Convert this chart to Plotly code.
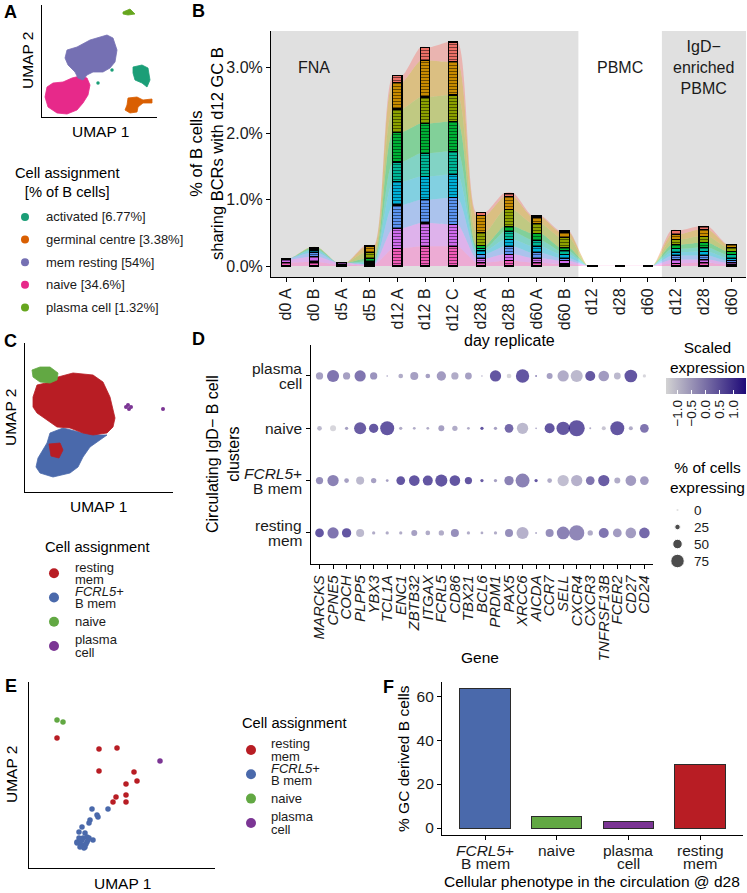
import plotly.graph_objects as go

W, H = 747, 893
FONT = "Liberation Sans"
INK = "#1a1a1a"

# ---------------- A: UMAP of all B cells (cluster outlines)
a_clusters = ["activated", "germinal centre", "mem resting", "naive", "plasma cell"]
a_share = ["6.77%", "3.38%", "54%", "34.6%", "1.32%"]
a_colors = ["#1b9e77", "#d95f02", "#7570b3", "#e7298a", "#66a61e"]

a_activated = [(9.1, 5.0), (10.0, 5.2), (10.6, 4.9), (10.8, 3.7), (10.5, 3.0), (10.0, 3.4), (9.3, 3.7), (9.1, 4.4)]
a_gc = [(8.6, 1.9), (9.5, 2.0), (10.1, 1.7), (11.0, 1.8), (11.0, 1.4), (10.1, 1.4), (9.6, 1.0), (9.5, 0.5),
        (8.8, 0.4), (8.3, 0.7), (8.5, 1.2)]
a_mem = [(2.5, 6.7), (3.5, 7.0), (4.8, 7.7), (6.5, 8.2), (7.1, 7.9), (7.5, 6.7), (7.3, 5.5), (6.8, 4.9), (6.1, 4.5),
         (5.1, 4.5), (4.5, 4.2), (4.1, 3.7), (3.6, 3.9), (3.3, 4.5), (2.6, 5.2), (2.3, 5.9)]
a_naive = [(0.5, 3.0), (1.1, 3.4), (2.1, 3.5), (3.0, 3.9), (3.8, 4.1), (4.5, 3.9), (4.8, 3.2), (4.6, 2.2), (4.1, 1.4),
           (3.5, 0.7), (2.5, 0.3), (1.5, 0.4), (0.6, 1.0), (0.3, 2.0)]
a_plasma = [(8.1, 10.5), (8.8, 10.8), (9.3, 10.3), (8.6, 10.2), (8.1, 10.3)]
a_stray = [(7.0, 4.7), (5.6, 3.4)]  # lone activated cells

# ---------------- B: clones shared with d12 GC B cells
b_samples = ["d0 A", "d0 B", "d5 A", "d5 B", "d12 A", "d12 B", "d12 C", "d28 A", "d28 B", "d60 A", "d60 B",
             "d12", "d28", "d60", "d12", "d28", "d60"]
b_tissue = ["FNA"] * 11 + ["PBMC"] * 3 + ["IgD"] * 3
# % of B cells per clone group, top group first
b_clone_pct = [
    [0, 0, 0, 0.02, 0.10, 0.20, 0.30, 0.05, 0.05, 0.02, 0.02, 0, 0, 0, 0.06, 0.05, 0.01],
    [0, 0, 0, 0.08, 0.40, 0.55, 0.50, 0.25, 0.20, 0.10, 0.08, 0, 0, 0, 0.08, 0.10, 0.04],
    [0, 0.01, 0, 0.10, 0.35, 0.40, 0.40, 0.20, 0.25, 0.15, 0.15, 0, 0, 0, 0.08, 0.10, 0.06],
    [0, 0.02, 0, 0.04, 0.45, 0.45, 0.45, 0.05, 0.08, 0.10, 0.05, 0, 0, 0, 0.06, 0.07, 0.05],
    [0, 0.02, 0, 0.02, 0.30, 0.35, 0.35, 0.03, 0.12, 0.09, 0.05, 0, 0, 0, 0.05, 0.06, 0.05],
    [0, 0.03, 0, 0.02, 0.35, 0.35, 0.35, 0.05, 0.10, 0.10, 0.06, 0, 0, 0, 0.05, 0.06, 0.04],
    [0.02, 0.06, 0, 0.01, 0.35, 0.35, 0.40, 0.07, 0.12, 0.08, 0.04, 0, 0, 0, 0.06, 0.06, 0.03],
    [0.05, 0.08, 0.03, 0.01, 0.30, 0.35, 0.33, 0.06, 0.10, 0.07, 0.05, 0, 0, 0, 0.06, 0.05, 0.03],
    [0.05, 0.06, 0.02, 0.01, 0.27, 0.30, 0.30, 0.05, 0.08, 0.05, 0.03, 0.004, 0.004, 0.004, 0.04, 0.05, 0.02],
]
b_clone_colors = ["#F8766D", "#D39200", "#93AA00", "#00BA38", "#00C19F", "#00B9E3", "#619CFF", "#DB72FB", "#FF61C3"]

# ---------------- C: UMAP of circulating IgD- B cells
c_clusters = ["resting mem", "FCRL5+ B mem", "naive", "plasma cell"]
c_labels = ["resting\nmem", "<i>FCRL5</i>+\nB mem", "naive", "plasma\ncell"]
c_colors = ["#b81d24", "#4a69ab", "#62a843", "#7b3594"]

c_mem = [(0.8, 9.5), (1.2, 10.7), (2.5, 11.0), (3.3, 11.5), (4.8, 11.9), (6.8, 11.7), (7.8, 11.0), (8.5, 9.5),
         (9.0, 7.4), (8.8, 6.5), (8.2, 5.9), (6.8, 5.7), (5.8, 5.9), (4.5, 6.4), (3.2, 6.5), (2.2, 7.2),
         (1.2, 7.9), (0.8, 8.5)]
c_mem_patch = [(2.4, 4.8), (3.5, 4.9), (3.8, 4.2), (3.4, 3.4), (2.6, 3.6)]
c_fcrl5 = [(2.5, 5.9), (3.8, 6.4), (5.8, 5.9), (7.5, 5.7), (8.2, 5.7), (7.5, 5.2), (6.5, 4.5), (5.8, 3.5),
           (5.3, 2.5), (4.5, 1.9), (2.8, 1.5), (1.5, 1.9), (1.1, 2.5), (1.3, 3.4), (2.2, 4.9)]
c_naive = [(0.7, 12.2), (1.5, 12.5), (2.5, 12.5), (3.3, 11.9), (3.2, 11.2), (2.5, 10.9), (1.5, 11.0), (0.8, 11.5)]
c_plasma_u1 = [10.1, 10.4, 10.6, 10.3, 13.8]
c_plasma_u2 = [8.5, 8.3, 8.5, 8.7, 8.3]

# ---------------- D: dot plot
d_genes = ["MARCKS", "CPNE5", "COCH", "PLPP5", "YBX3", "TCL1A", "ENC1", "ZBTB32", "ITGAX", "FCRL5", "CD86",
           "TBX21", "BCL6", "PRDM1", "PAX5", "XRCC6", "AICDA", "CCR7", "SELL", "CXCR4", "CXCR3", "TNFRSF13B",
           "FCER2", "CD27", "CD24"]
d_rows = ["resting\nmem", "<i>FCRL5</i>+\nB mem", "naive", "plasma\ncell"]
d_scaled = [
    [1.4, 0.75, 1.4, -0.6, -0.35, -0.35, -0.35, -0.1, -0.35, -0.35, 0.25, -0.35, -0.35, -0.35, 0.25, -0.45,
     -0.35, 0.25, 0.5, 0.4, -0.35, 0.75, 0.0, 0.0, 1.0],
    [0.25, 0.5, -0.1, -0.6, -0.1, -0.1, 1.4, 1.4, 1.4, 1.4, 1.4, 1.4, 1.25, -0.1, 0.5, 0.5, 1.4, -0.35, -0.7,
     -0.45, 0.75, 1.25, -0.35, 0.0, 0.0],
    [-0.6, -1.2, -0.1, 1.25, 1.35, 1.4, -0.35, -0.35, -0.35, -0.1, -0.35, -0.35, 1.4, -0.1, 1.0, -0.6, -0.1,
     1.4, 1.35, 1.4, -0.35, -0.85, 1.4, -0.35, 0.75],
    [-0.1, 0.75, -0.1, 0.75, 0.15, -0.2, -0.35, -0.1, -0.1, 0.0, -0.35, -0.1, -0.5, 1.4, -1.2, 1.4, 0.4, -0.1,
     -0.35, -0.6, 1.35, 0.0, -0.6, 1.4, -1.2],
]
d_pct = [
    [45, 61, 49, 41, 11, 11, 11, 28, 20, 24, 41, 11, 8, 11, 41, 66, 3, 41, 70, 86, 24, 53, 45, 57, 57],
    [36, 61, 20, 41, 24, 8, 45, 57, 53, 66, 57, 36, 11, 11, 49, 78, 11, 20, 61, 61, 45, 61, 28, 57, 45],
    [20, 28, 11, 66, 49, 78, 11, 8, 8, 28, 24, 8, 11, 11, 45, 61, 1, 53, 74, 91, 3, 16, 78, 16, 45],
    [36, 66, 36, 61, 36, 1, 20, 41, 20, 49, 36, 33, 1, 61, 20, 74, 3, 28, 61, 66, 53, 57, 33, 70, 11],
]
d_size_keys = [0, 25, 50, 75]
d_color_ticks = [-1.0, -0.5, 0.0, 0.5, 1.0]

# ---------------- E: UMAP of GC-derived cells at d28
e_u1 = {
    "resting mem": [2.8, 7.0, 8.8, 7.0, 10.5, 10.8, 9.7, 8.7, 9.7, 8.4, 9.7],
    "FCRL5+ B mem": [6.3, 7.9, 6.8, 6.9, 6.1, 6.0, 5.3, 5.0, 5.6, 5.8, 5.4, 6.4, 4.8, 5.1, 5.4, 5.6, 5.8, 6.0,
                     5.3, 5.5, 5.1, 5.7, 5.9, 5.0, 4.8],
    "naive": [2.8, 3.4],
    "plasma cell": [13.1],
}
e_u2 = {
    "resting mem": [13.0, 11.9, 12.0, 9.7, 9.6, 8.7, 8.4, 7.1, 7.3, 6.6, 6.6],
    "FCRL5+ B mem": [5.9, 5.9, 5.3, 5.1, 4.8, 4.5, 4.1, 3.6, 3.5, 3.1, 3.0, 2.8, 2.6, 2.5, 2.3, 2.1, 2.6, 3.0,
                     2.8, 2.0, 2.1, 2.4, 2.8, 3.0, 2.5],
    "naive": [14.8, 14.6],
    "plasma cell": [10.7],
}

# ---------------- F: phenotype of GC-derived cells in circulation
f_labels = ["<i>FCRL5</i>+\nB mem", "naive", "plasma\ncell", "resting\nmem"]
f_pct = [63.3, 5.4, 2.9, 29.0]
f_colors = ["#4a69ab", "#62a843", "#7b3594", "#b81d24"]


def dx(a, b):
    return [a / W, b / W]


def dy(top, bottom):
    return [1 - bottom / H, 1 - top / H]


def poly(pts, color, xa, ya):
    xs = [p[0] for p in pts] + [pts[0][0]]
    ys = [p[1] for p in pts] + [pts[0][1]]
    return go.Scatter(x=xs, y=ys, mode="lines", fill="toself", fillcolor=color,
                      line=dict(color=color, width=0.8), xaxis=xa, yaxis=ya, hoverinfo="skip")


def font(size, color=INK):
    return dict(family=FONT, size=size, color=color)


def umap_axis(dom, rng):
    return dict(domain=dom, range=rng, showline=True, linecolor="black", linewidth=1.1, ticks="",
                showticklabels=False, showgrid=False, zeroline=False, fixedrange=True)


def plain_axis(dom, rng, **kw):
    d = dict(domain=dom, range=rng, showline=True, linecolor="black", linewidth=1.1, ticks="outside",
             ticklen=4, tickcolor="black", tickwidth=1, showgrid=False, zeroline=False,
             tickfont=font(15.5), fixedrange=True)
    d.update(kw)
    return d


def hidden_axis(dom, rng, **kw):
    d = dict(domain=dom, range=rng, visible=False, fixedrange=True)
    d.update(kw)
    return d


fig = go.Figure()
ann = []
shapes = []

# ---- A
for pts, col in [(a_naive, a_colors[3]), (a_mem, a_colors[2]), (a_activated, a_colors[0]),
                 (a_gc, a_colors[1]), (a_plasma, a_colors[4])]:
    fig.add_trace(poly(pts, col, "x", "y"))
fig.add_trace(go.Scatter(x=[p[0] for p in a_stray], y=[p[1] for p in a_stray], mode="markers",
                         marker=dict(color=a_colors[0], size=3.5), xaxis="x", yaxis="y"))

# ---- B: alluvium (base subplot) and stacked strata (overlay subplot)
b_pos = list(range(1, len(b_samples) + 1))
half = 1 / 6
b_xa = [p + s for p in b_pos for s in (-half, half)]
for vals, col in zip(b_clone_pct[::-1], b_clone_colors[::-1]):
    r, g, b = int(col[1:3], 16), int(col[3:5], 16), int(col[5:7], 16)
    fig.add_trace(go.Scatter(x=b_xa, y=[v for v in vals for _ in (0, 1)], mode="lines", stackgroup="allu",
                             line=dict(width=0, shape="spline", smoothing=0.8, color=col),
                             fillcolor=f"rgba({r},{g},{b},0.42)", xaxis="x2", yaxis="y2", hoverinfo="skip"))
for vals, col in zip(b_clone_pct[::-1], b_clone_colors[::-1]):
    fig.add_trace(go.Bar(x=b_pos, y=vals, width=1 / 3, xaxis="x3", yaxis="y3",
                         marker=dict(color=col, line=dict(color="black", width=1.2),
                                     pattern=dict(shape="-", fgcolor="black", size=3, solidity=0.4,
                                                  fillmode="overlay"))))

b_range = [0.46, 17.52]
b_yrange = [-0.165, 3.545]
# grey panels for FNA and IgD-enriched PBMC
fna_end = max(p for p, t in zip(b_pos, b_tissue) if t == "FNA") + 0.5
igd_start = min(p for p, t in zip(b_pos, b_tissue) if t == "IgD") - 0.5
for x0, x1 in [(b_range[0], fna_end), (igd_start, b_range[1])]:
    shapes.append(dict(type="rect", xref="x2", yref="y2 domain", x0=x0, x1=x1, y0=0, y1=1,
                       fillcolor="#e0e0e0", line=dict(width=0), layer="below"))
ann += [
    dict(text="FNA", x=2, y=3.0, xref="x2", yref="y2", showarrow=False, font=font(16)),
    dict(text="PBMC", x=13, y=3.0, xref="x2", yref="y2", showarrow=False, font=font(16)),
    dict(text="IgD−<br>enriched<br>PBMC", x=16, y=3.0, xref="x2", yref="y2", showarrow=False, font=font(16)),
]

# ---- C
for pts, col in [(c_fcrl5, c_colors[1]), (c_mem, c_colors[0]), (c_mem_patch, c_colors[0]),
                 (c_naive, c_colors[2])]:
    fig.add_trace(poly(pts, col, "x4", "y4"))
fig.add_trace(go.Scatter(x=c_plasma_u1, y=c_plasma_u2, mode="markers", marker=dict(color=c_colors[3], size=4),
                         xaxis="x4", yaxis="y4"))

# ---- D
dxs, dys, dcol, dsz = [], [], [], []
for r in range(len(d_rows)):
    for g in range(len(d_genes)):
        dxs.append(g + 1)
        dys.append(r + 1)
        dcol.append(d_scaled[r][g])
        dsz.append(1.5 + 0.16 * d_pct[r][g])
fig.add_trace(go.Scatter(
    x=dxs, y=dys, mode="markers", xaxis="x5", yaxis="y5",
    marker=dict(size=dsz, color=dcol, colorscale=[[0, "#d3d3d3"], [1, "#1e0a78"]], cmin=-1.4, cmax=1.45,
                line=dict(width=0),
                colorbar=dict(orientation="h", x=706 / W, xanchor="center", y=1 - 378 / H, yanchor="top",
                              len=80, lenmode="pixels", thickness=16, thicknessmode="pixels",
                              tickvals=d_color_ticks, ticktext=[f"{v:.1f}".replace("-", "−") for v in d_color_ticks],
                              tickangle=-90, ticks="inside", tickcolor="white", ticklen=4,
                              outlinewidth=0, tickfont=font(13.5), xpad=0, ypad=0))))
# row labels with ggplot-like tight line spacing
d_row_pos = list(range(1, len(d_rows) + 1))
for yv, lab in zip(d_row_pos, d_rows):
    lines = lab.split("\n")
    for k, line in enumerate(lines):
        ann.append(dict(text=line, x=0, y=yv, xref="x5 domain", yref="y5", xanchor="right", yanchor="middle",
                        xshift=-7, yshift=((len(lines) - 1) / 2 - k) * 15, showarrow=False, font=font(15.5)))

# ---- E
for name, col in zip(c_clusters, c_colors):
    fig.add_trace(go.Scatter(x=e_u1[name], y=e_u2[name], mode="markers", marker=dict(color=col, size=5.5),
                             xaxis="x6", yaxis="y6"))

# ---- F
f_pos = list(range(1, len(f_pct) + 1))
fig.add_trace(go.Bar(x=f_pos, y=f_pct, width=0.7, xaxis="x7", yaxis="y7",
                     marker=dict(color=f_colors, line=dict(color="#2b2b2b", width=1))))
for xv, lab in zip(f_pos, f_labels):
    for k, line in enumerate(lab.split("\n")):
        ann.append(dict(text=line, x=xv, y=0, xref="x7", yref="y7 domain", xanchor="center", yanchor="top",
                        yshift=-5 - k * 13.3, showarrow=False, font=font(15.5)))


# ---- legends drawn on hidden axes (one row per entry)
def legend_block(xa, ya, labels, colors, dot_x, text_x, dot_size, size, gap):
    n = len(labels)
    fig.add_trace(go.Scatter(x=[dot_x] * n, y=list(range(n)), mode="markers",
                             marker=dict(color=colors, size=dot_size), xaxis=xa, yaxis=ya))
    for i, lab in enumerate(labels):
        lines = lab.split("\n")
        for k, line in enumerate(lines):
            ann.append(dict(text=line, x=text_x, y=i, xref=xa, yref=ya, xanchor="left", yanchor="middle",
                            yshift=((len(lines) - 1) / 2 - k) * gap, showarrow=False, font=font(size)))


legend_block("x8", "y8", [f"{c} [{s}]" for c, s in zip(a_clusters, a_share)], a_colors, 25, 44, 8, 13, 12.3)
legend_block("x9", "y9", c_labels, c_colors, 54, 73, 10, 13, 12.3)
legend_block("x10", "y10", c_labels, c_colors, 251, 269, 10, 13, 12.3)
legend_block("x11", "y11", [str(k) for k in d_size_keys], ["black"] * 4, 677.5, 692,
             [1.5 + 0.16 * k for k in d_size_keys], 13.5, 12.3)

layout_axes = dict(
    xaxis=umap_axis(dx(42, 157), [0, 11.5]),
    yaxis=umap_axis(dy(5, 117), [0, 11.2]),
    xaxis2=plain_axis(dx(271, 746), b_range, tickvals=b_pos, ticktext=b_samples, tickangle=-90,
                      tickfont=font(16), anchor="y2"),
    yaxis2=plain_axis(dy(31, 277), b_yrange, tickvals=[0, 1, 2, 3],
                      ticktext=[f"{v:.1f}%" for v in [0, 1, 2, 3]], tickfont=font(16), anchor="x2"),
    xaxis3=hidden_axis(dx(271, 746), b_range, overlaying="x2", anchor="y3"),
    yaxis3=hidden_axis(dy(31, 277), b_yrange, overlaying="y2", anchor="x3"),
    xaxis4=umap_axis(dx(25, 173), [0, 14.8]),
    yaxis4=umap_axis(dy(343, 492), [0, 14.9]),
    xaxis5=plain_axis(dx(311.4, 652.5), [0.4, 25.6], tickvals=list(range(1, 26)),
                      ticktext=[f"<i>{g}</i>" for g in d_genes], tickangle=-90, tickfont=font(15), anchor="y5"),
    yaxis5=plain_axis(dy(344.6, 564.3), [0.4, 4.6], tickvals=d_row_pos, showticklabels=False, anchor="x5"),
    xaxis6=umap_axis(dx(29, 215), [0, 18.6]),
    yaxis6=umap_axis(dy(682, 868), [0, 18.6]),
    xaxis7=plain_axis(dx(442, 743), [0.4, 4.6], tickvals=f_pos, showticklabels=False, anchor="y7"),
    yaxis7=plain_axis(dy(682, 835), [-3.16, 66.4], tickvals=[0, 20, 40, 60], anchor="x7"),
    xaxis8=hidden_axis([0, 1], [0, W], anchor="y8"),
    yaxis8=hidden_axis(dy(205.7, 318.7), [4.5, -0.5], anchor="x8"),
    xaxis9=hidden_axis([0, 1], [0, W], anchor="y9"),
    yaxis9=hidden_axis(dy(561.2, 658.1), [3.5, -0.5], anchor="x9"),
    xaxis10=hidden_axis([0, 1], [0, W], anchor="y10"),
    yaxis10=hidden_axis(dy(737.8, 835.1), [3.5, -0.5], anchor="x10"),
    xaxis11=hidden_axis([0, 1], [0, W], anchor="y11"),
    yaxis11=hidden_axis(dy(501.5, 569.5), [3.5, -0.5], anchor="x11"),
)
for k in ["xaxis", "xaxis4", "xaxis6"]:
    layout_axes[k]["anchor"] = {"xaxis": "y", "xaxis4": "y4", "xaxis6": "y6"}[k]
for k in ["yaxis", "yaxis4", "yaxis6"]:
    layout_axes[k]["anchor"] = {"yaxis": "x", "yaxis4": "x4", "yaxis6": "x6"}[k]


def paper_text(text, px, py, size, angle=0, xanchor="center", yanchor="middle"):
    ann.append(dict(text=text, x=px / W, y=1 - py / H, xref="paper", yref="paper", showarrow=False,
                    textangle=angle, xanchor=xanchor, yanchor=yanchor, font=font(size, "black")))


# panel letters
for letter, px, py in [("A", 2, 12), ("B", 190, 11), ("C", 2, 341), ("D", 190, 339), ("E", 3, 686),
                       ("F", 381, 687)]:
    paper_text(f"<b>{letter}</b>", px, py, 18, xanchor="left")

# axis titles
paper_text("UMAP 2", 28, 61, 15.5, angle=-90)
paper_text("UMAP 1", 100, 131, 15.5)
paper_text("% of B cells<br>sharing BCRs with d12 GC B", 206, 154, 16.5, angle=-90)
paper_text("day replicate", 509, 341, 16)
paper_text("UMAP 2", 10, 418, 15.5, angle=-90)
paper_text("UMAP 1", 98, 506, 15.5)
paper_text("Circulating IgD− B cell<br>clusters", 223, 454, 16, angle=-90)
paper_text("Gene", 480, 657, 15.5)
paper_text("UMAP 2", 11, 775, 15.5, angle=-90)
paper_text("UMAP 1", 122, 883, 15.5)
paper_text("% GC derived B cells", 403, 759, 15.5, angle=-90)
paper_text("Cellular phenotype in the circulation @ d28", 592, 881, 15.5)

# legend titles
paper_text("Cell assignment<br>[% of B cells]", 13, 182.5, 14.7, xanchor="left")
paper_text("Cell assignment", 43, 547, 14.7, xanchor="left")
paper_text("Cell assignment", 240, 723, 14.7, xanchor="left")
paper_text("Scaled<br>expression", 668, 357, 15.5, xanchor="left")
paper_text("% of cells<br>expressing", 668, 477, 15.5, xanchor="left")

fig.update_layout(
    width=W, height=H, margin=dict(l=0, r=0, t=0, b=0),
    paper_bgcolor="white", plot_bgcolor="rgba(0,0,0,0)", showlegend=False, barmode="stack",
    font=font(15), annotations=ann, shapes=shapes, **layout_axes,
)

# the page body has a default 8px margin; drop it so the figure sits at the window origin
fig.write_html("out.html", config={"displayModeBar": False},
               post_script="document.body.style.margin='0';document.body.style.overflow='hidden';")
